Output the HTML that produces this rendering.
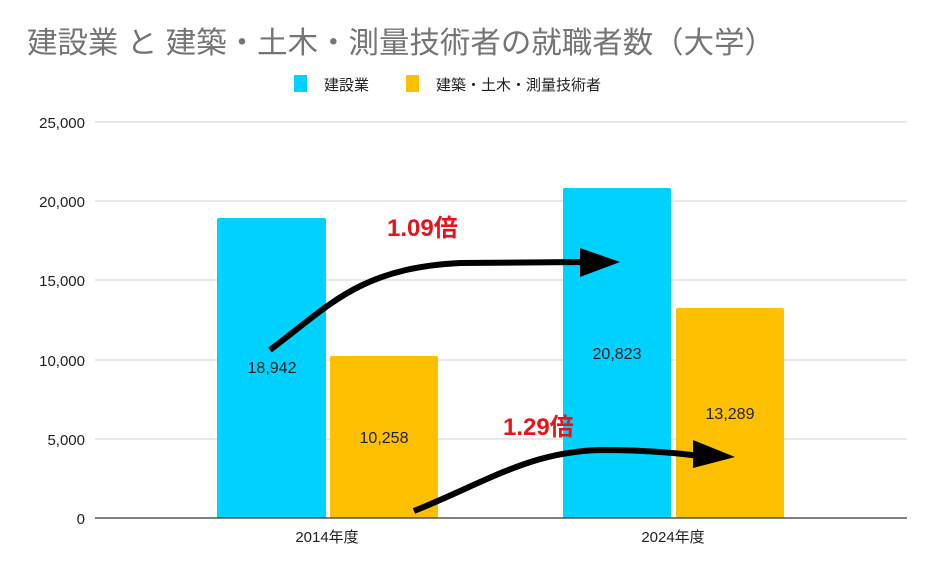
<!DOCTYPE html>
<html><head><meta charset="utf-8"><style>
body{margin:0;background:#fff;}
svg{display:block;font-family:"Liberation Sans","Noto Sans CJK JP",sans-serif;}
</style></head><body>
<svg width="925" height="571" viewBox="0 0 925 571" xmlns="http://www.w3.org/2000/svg">
<rect width="925" height="571" fill="#fff"/>
<text x="27" y="53" font-size="30" fill="#757575" textLength="748" lengthAdjust="spacingAndGlyphs">建設業 と 建築・土木・測量技術者の就職者数（大学）</text>
<rect x="294" y="75" width="13" height="17" fill="#00d2ff"/>
<text x="324" y="90" font-size="15" fill="#222">建設業</text>
<rect x="406" y="75" width="13" height="17" fill="#fcc000"/>
<text x="436" y="90" font-size="15" fill="#222">建築・土木・測量技術者</text>
<g stroke="#d9d9d9" stroke-width="1.2">
<line x1="95" y1="122" x2="907" y2="122"/>
<line x1="95" y1="201" x2="907" y2="201"/>
<line x1="95" y1="280" x2="907" y2="280"/>
<line x1="95" y1="360" x2="907" y2="360"/>
<line x1="95" y1="439" x2="907" y2="439"/>
</g>
<g font-size="15" fill="#222" text-anchor="end">
<text x="85" y="128">25,000</text>
<text x="85" y="207">20,000</text>
<text x="85" y="286">15,000</text>
<text x="85" y="366">10,000</text>
<text x="85" y="445">5,000</text>
<text x="85" y="524">0</text>
</g>
<rect x="217" y="218" width="109" height="300" rx="2" fill="#00d2ff"/>
<rect x="330" y="356" width="108" height="162" rx="2" fill="#fcc000"/>
<rect x="563" y="188" width="108" height="330" rx="2" fill="#00d2ff"/>
<rect x="676" y="308" width="108" height="210" rx="2" fill="#fcc000"/>
<line x1="95" y1="518" x2="907" y2="518" stroke="#333" stroke-width="1.2"/>
<g font-size="16" fill="#222" text-anchor="middle">
<text x="272" y="373">18,942</text>
<text x="384" y="443">10,258</text>
<text x="617" y="359">20,823</text>
<text x="730" y="419">13,289</text>
<text x="327" y="542" font-size="15">2014年度</text>
<text x="673" y="542" font-size="15">2024年度</text>
</g>
<path d="M270 350 C330 305 360 268 460 263 L585 262" fill="none" stroke="#000" stroke-width="6"/>
<polygon points="580,248 620,262 580,277" fill="#000"/>
<path d="M414 511 C490 480 530 452 600 450 C640 450 670 452 700 456" fill="none" stroke="#000" stroke-width="6"/>
<polygon points="693,440 735,457 693,468" fill="#000"/>
<g font-size="24" font-weight="bold" fill="#e5141b">
<text x="387" y="236">1.09倍</text>
<text x="503" y="435">1.29倍</text>
</g>
</svg>
</body></html>
